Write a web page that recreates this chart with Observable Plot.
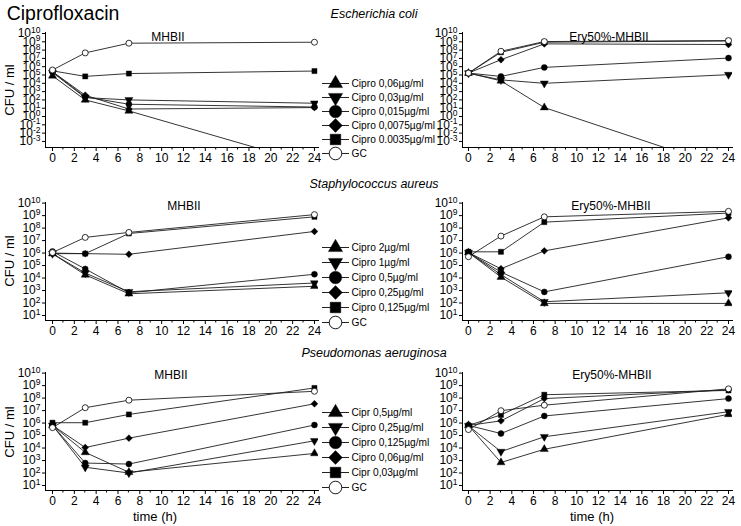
<!DOCTYPE html>
<html><head><meta charset="utf-8">
<script src="https://cdn.jsdelivr.net/npm/d3@7"></script>
<script src="https://cdn.jsdelivr.net/npm/@observablehq/plot@0.6"></script>
<style>
body{margin:0;background:#fff;}
#wrap{position:relative;width:741px;height:526px;font-family:"Liberation Sans",Arial,sans-serif;color:#000;overflow:hidden;background:#fff}
.lbl{position:absolute;white-space:nowrap;line-height:1;transform:translate(-50%,-50%)}
.box{position:absolute}
.box svg{overflow:visible}
</style></head><body><div id="wrap"></div>
<script>
// ---------- data (CFU/ml) ----------
const hours = [0, 3, 7, 24];
const xTickHours = [0, 2, 4, 6, 8, 10, 12, 14, 16, 18, 20, 22, 24];
const minorHours = [1, 3, 5, 7, 9, 11, 13, 15, 17, 19, 21, 23];
const yExpEcoli = [-3, -2, -1, 0, 1, 2, 3, 4, 5, 6, 7, 8, 9, 10];
const yExpOther = [1, 2, 3, 4, 5, 6, 7, 8, 9, 10];
const speciesNames = ["Escherichia coli", "Staphylococcus aureus", "Pseudomonas aeruginosa"];
const mediumNames = ["MHBII", "Ery50%-MHBII"];
const legendEcoli = ["Cipro 0,06µg/ml", "Cipro 0,03µg/ml", "Cipro 0,015µg/ml", "Cipro 0,0075µg/ml", "Cipro 0.0035µg/ml", "GC"];
const legendSaureus = ["Cipro 2µg/ml", "Cipro 1µg/ml", "Cipro 0,5µg/ml", "Cipro 0,25µg/ml", "Cipro 0,125µg/ml", "GC"];
const legendPaeru = ["Cipr 0,5µg/ml", "Cipro 0,25µg/ml", "Cipro 0,125µg/ml", "Cipro 0,06µg/ml", "Cipr 0,03µg/ml", "GC"];

// rows: highest Cipro ... lowest Cipro, GC ; columns: 0, 3, 7, 24 h
const ecoliMHBII = [
  [8e4, 1e2, 4.7, 1.6e-6],
  [2e5, 1.9e2, 1e2, 4e1],
  [2.5e5, 2.3e2, 3e1, 1.4e1],
  [2.5e5, 3.7e2, 8, 1.2e1],
  [3.2e5, 6.8e4, 1.5e5, 3e5],
  [4e5, 4.6e7, 6.8e8, 8.9e8]
];
const ecoliEry = [
  [1.7e5, 2e4, 1.2e1, 5e-7],
  [1.7e5, 2.6e4, 1e4, 1.1e5],
  [1.7e5, 6.8e4, 8.3e5, 1.1e7],
  [1.7e5, 7e6, 5.6e8, 4.7e8],
  [1.7e5, 5.4e7, 8.9e8, 1.26e9],
  [1.7e5, 7.2e7, 1.07e9, 1.4e9]
];
const saureusMHBII = [
  [9e5, 1.8e4, 5.5e2, 2.2e3],
  [9e5, 2.5e4, 8e2, 4e3],
  [1.35e6, 5.4e4, 6.6e2, 2e4],
  [9e5, 9e5, 8e5, 5.4e7],
  [1e6, 9e5, 3.7e7, 8e8],
  [1.1e6, 1.8e7, 4.5e7, 1.2e9]
];
const saureusEry = [
  [1.1e6, 1.2e4, 9.3e1, 9.3e1],
  [1.1e6, 1.9e4, 1.26e2, 6.6e2],
  [1.1e6, 3e4, 7.8e2, 5.1e5],
  [1.1e6, 5.5e4, 1.5e6, 6.6e8],
  [1.26e6, 1.26e6, 3e8, 1.6e9],
  [5.1e5, 2.3e7, 8e8, 2.2e9]
];
const paeruMHBII = [
  [6.6e5, 4.5e3, 1.15e2, 3.7e3],
  [6.6e5, 2.9e2, 1e2, 3.8e4],
  [6.6e5, 6.3e2, 5.2e2, 7e5],
  [6.6e5, 1.1e4, 6.2e4, 3.5e7],
  [1.07e6, 1.07e6, 4.9e6, 6.5e8],
  [4.3e5, 1.7e7, 6.8e7, 3.5e8]
];
const paeruEry = [
  [6.5e5, 7e2, 8e3, 5e6],
  [6e5, 5.2e3, 8e4, 8.1e6],
  [6.5e5, 1.45e5, 3.7e6, 9.1e7],
  [6.5e5, 1.5e6, 9.1e7, 4.6e8],
  [6.5e5, 4.5e6, 1.86e8, 4.1e8],
  [3e5, 9.8e6, 2.7e7, 5.5e8]
];

// ---------- drawing ----------
const FONT = "'Liberation Sans', Arial, sans-serif";
const sqrt3 = Math.sqrt(3);
const triangleDown = {draw(ctx, size) {
  const y = -Math.sqrt(size / (sqrt3 * 3));
  ctx.moveTo(0, -y * 2); ctx.lineTo(-sqrt3 * y, y); ctx.lineTo(sqrt3 * y, y); ctx.closePath();
}};
const symbols = ["triangle", triangleDown, "circle", "diamond2", "square", "circle"];
const panelR = [3.0, 3.0, 3.0, 3.1, 2.9, 3.0];
const legendR = [5.3, 5.3, 6.3, 6.2, 6.0, 6.3];

const wrap = document.getElementById("wrap");
function addLabel(text, cx, cy, css) {
  const d = document.createElement("div");
  d.className = "lbl"; d.textContent = text;
  d.style.left = cx + "px"; d.style.top = cy + "px";
  Object.assign(d.style, css || {});
  wrap.appendChild(d);
}
function place(node, left, top) {
  const b = document.createElement("div");
  b.className = "box"; b.style.left = left + "px"; b.style.top = top + "px";
  b.appendChild(node); wrap.appendChild(b);
}
function superscripts(svg) {
  d3.select(svg).selectAll("text").each(function () {
    const m = /^10\^(-?\d+)$/.exec(this.textContent);
    if (m) {
      this.textContent = "10";
      d3.select(this).append("tspan").attr("dy", "-0.5em").attr("font-size", "8.5px").text(m[1]);
    }
  });
}

function panel(data, cfg) {
  const rows = [];
  data.forEach((vals, s) => vals.forEach((v, i) => rows.push({s, t: hours[i], v})));
  const marks = [];
  data.forEach((vals, s) => marks.push(Plot.line(rows.filter(d => d.s === s), {x: "t", y: "v", stroke: "#1e1e1e", strokeWidth: 0.9, clip: true})));
  data.forEach((vals, s) => marks.push(Plot.dot(rows.filter(d => d.s === s), {
    x: "t", y: "v", symbol: symbols[s], r: panelR[s],
    fill: s === 5 ? "white" : "black", stroke: "black", strokeWidth: s === 5 ? 0.8 : 0.4, clip: true
  })));
  const chart = Plot.plot({
    width: cfg.width, height: cfg.height,
    marginLeft: cfg.ml, marginRight: cfg.mr, marginTop: cfg.mt, marginBottom: cfg.mb,
    style: {fontFamily: FONT, fontSize: "12px", background: "transparent", color: "#000", overflow: "visible"},
    x: {domain: cfg.xDomain, ticks: xTickHours, tickSize: 4, tickPadding: 2, label: null, line: true},
    y: {type: "log", domain: cfg.yDomain, ticks: cfg.yExp.map(e => Math.pow(10, e)),
        tickFormat: d => "10^" + Math.round(Math.log10(d)), tickSize: 3, tickPadding: 2, label: null, line: true},
    marks
  });
  superscripts(chart);
  // minor ticks on the time axis
  const sx = chart.scale("x");
  const fx = sx.apply ? (v => sx.apply(v)) : d3.scaleLinear(sx.domain, sx.range);
  const yb = cfg.height - cfg.mb;
  const g = d3.select(chart).append("g").attr("stroke", "black").attr("stroke-width", 1);
  minorHours.forEach(h => g.append("line").attr("x1", fx(h)).attr("x2", fx(h)).attr("y1", yb).attr("y2", yb + 2.5));
  return chart;
}

function legend(labels, step) {
  const h = step * 5 + 12;
  return Plot.plot({
    width: 130, height: h, marginLeft: 0, marginRight: 0, marginTop: 6, marginBottom: 6,
    style: {fontFamily: FONT, background: "transparent", color: "#000", overflow: "visible"},
    x: {axis: null, domain: [0, 1]},
    y: {type: "point", domain: labels, padding: 0, axis: null},
    marks: [
      Plot.ruleY(labels, {y: d => d, stroke: "#222", strokeWidth: 1, insetLeft: 2, insetRight: 101}),
      ...labels.map((l, i) => Plot.dot([l], {y: d => d, frameAnchor: "left", dx: 15, symbol: symbols[i], r: legendR[i],
        fill: i === 5 ? "white" : "black", stroke: "black", strokeWidth: i === 5 ? 0.9 : 0.4})),
      Plot.text(labels, {y: d => d, text: d => d, frameAnchor: "left", dx: 31, textAnchor: "start", fontSize: 10.2})
    ]
  });
}

const leftCfg = {width: 330, ml: 45, mr: 12, xDomain: [-0.64, 24.37]};
const rightCfg = {width: 321, ml: 42, mr: 9, xDomain: [-0.55, 24.37]};
const rowsCfg = [
  {top: 20, height: 150, mt: 12, mb: 23, yDomain: [Math.pow(10, -3.73), Math.pow(10, 10.12)], yExp: yExpEcoli},
  {top: 190, height: 150, mt: 12, mb: 20, yDomain: [Math.pow(10, 0.6), Math.pow(10, 10.05)], yExp: yExpOther},
  {top: 360, height: 150, mt: 12, mb: 20, yDomain: [Math.pow(10, 0.6), Math.pow(10, 10.05)], yExp: yExpOther}
];
const panelData = [[ecoliMHBII, ecoliEry], [saureusMHBII, saureusEry], [paeruMHBII, paeruEry]];
const legends = [legendEcoli, legendSaureus, legendPaeru];
const legendTops = [75, 241, 405];
const legendSteps = [14.6, 15, 15.2];
const speciesY = [14, 184, 353];
const titleY = [[168, 37, 609, 37], [184, 206, 611, 206], [171, 375, 612, 375]];
const cfuY = [90, 261, 432];

rowsCfg.forEach((rc, r) => {
  place(panel(panelData[r][0], {...leftCfg, ...rc}), 0, rc.top);
  place(panel(panelData[r][1], {...rightCfg, ...rc}), 420, rc.top);
  place(legend(legends[r], legendSteps[r]), 320, legendTops[r]);
  addLabel(speciesNames[r], 374, speciesY[r], {fontStyle: "italic", fontSize: "12.5px"});
  addLabel(mediumNames[0], titleY[r][0], titleY[r][1], {fontSize: "12px"});
  addLabel(mediumNames[1], titleY[r][2], titleY[r][3], {fontSize: "12px"});
  addLabel("CFU / ml", 9, cfuY[r], {fontSize: "13px", transform: "translate(-50%,-50%) rotate(-90deg)"});
});
addLabel("Ciprofloxacin", 63, 14, {fontSize: "19.5px"});
addLabel("time (h)", 155, 516, {fontSize: "13px"});
addLabel("time (h)", 592, 516, {fontSize: "13px"});
</script>
</body></html>
